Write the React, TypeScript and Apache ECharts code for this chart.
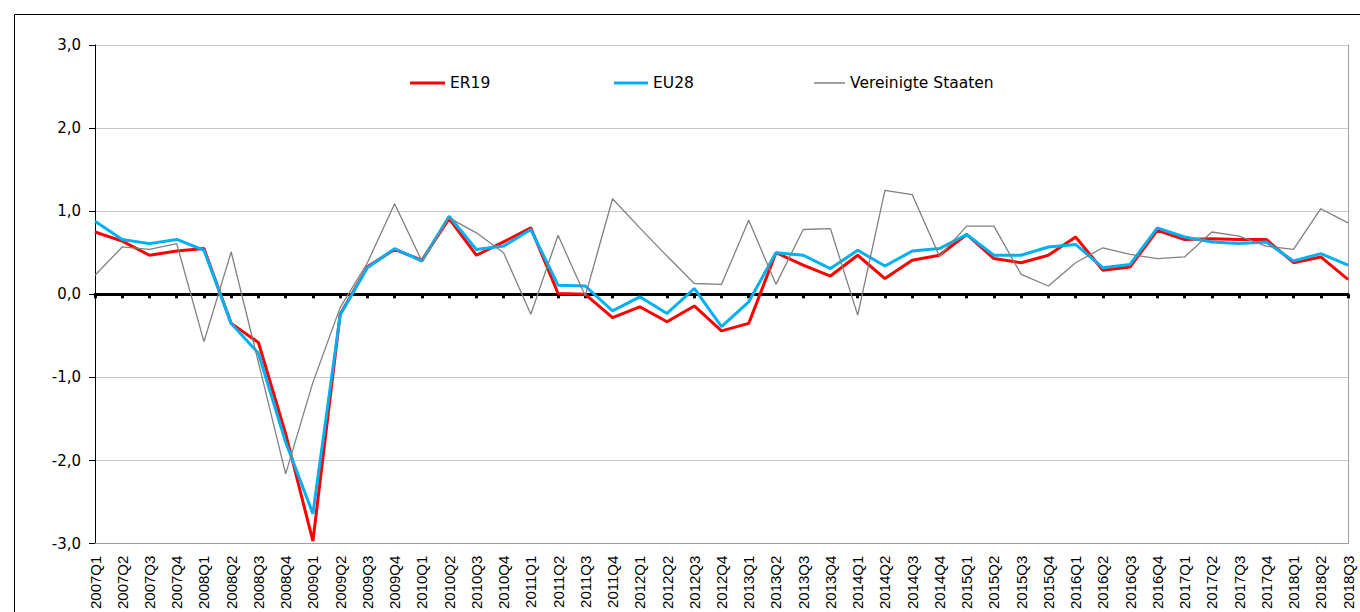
import React, { useEffect, useRef } from "react";
import * as echarts from "echarts";

const categories = [
  "2007Q1", "2007Q2", "2007Q3", "2007Q4",
  "2008Q1", "2008Q2", "2008Q3", "2008Q4",
  "2009Q1", "2009Q2", "2009Q3", "2009Q4",
  "2010Q1", "2010Q2", "2010Q3", "2010Q4",
  "2011Q1", "2011Q2", "2011Q3", "2011Q4",
  "2012Q1", "2012Q2", "2012Q3", "2012Q4",
  "2013Q1", "2013Q2", "2013Q3", "2013Q4",
  "2014Q1", "2014Q2", "2014Q3", "2014Q4",
  "2015Q1", "2015Q2", "2015Q3", "2015Q4",
  "2016Q1", "2016Q2", "2016Q3", "2016Q4",
  "2017Q1", "2017Q2", "2017Q3", "2017Q4",
  "2018Q1", "2018Q2", "2018Q3",
];

const er19 = [
  0.75, 0.64, 0.47, 0.52, 0.55, -0.35, -0.58, -1.68, -2.97, -0.24, 0.33, 0.54,
  0.41, 0.91, 0.47, 0.63, 0.8, 0.01, 0.0, -0.28, -0.15, -0.33, -0.14, -0.44,
  -0.35, 0.5, 0.35, 0.22, 0.47, 0.19, 0.41, 0.47, 0.72, 0.43, 0.38, 0.47,
  0.69, 0.29, 0.33, 0.77, 0.66, 0.67, 0.66, 0.66, 0.38, 0.45, 0.18,
];

const eu28 = [
  0.88, 0.66, 0.61, 0.66, 0.53, -0.35, -0.71, -1.78, -2.64, -0.25, 0.32, 0.55,
  0.4, 0.94, 0.54, 0.58, 0.78, 0.11, 0.1, -0.2, -0.03, -0.23, 0.07, -0.39,
  -0.09, 0.5, 0.47, 0.31, 0.53, 0.34, 0.52, 0.55, 0.72, 0.47, 0.47, 0.57,
  0.6, 0.32, 0.36, 0.8, 0.69, 0.63, 0.61, 0.63, 0.4, 0.49, 0.35,
];

const usa = [
  0.23, 0.57, 0.54, 0.61, -0.57, 0.51, -0.82, -2.16, -1.06, -0.16, 0.38, 1.09,
  0.4, 0.92, 0.74, 0.5, -0.24, 0.71, -0.02, 1.15, 0.8, 0.46, 0.13, 0.12,
  0.89, 0.12, 0.78, 0.79, -0.25, 1.25, 1.2, 0.46, 0.82, 0.82, 0.24, 0.1,
  0.38, 0.56, 0.48, 0.43, 0.45, 0.75, 0.7, 0.58, 0.54, 1.03, 0.86,
];

const seriesNames = ["ER19", "EU28", "Vereinigte Staaten"];
const seriesColors = ["#ff0000", "#00b0f0", "#808080"];
const yTicks = [-3, -2, -1, 0, 1, 2, 3];

const FONT = "Liberation Sans, Arial, sans-serif";
const WIDE_FONT = "DejaVu Sans, sans-serif";

export default function App() {
  const ref = useRef<HTMLDivElement>(null);

  useEffect(() => {
    if (!ref.current) return;
    const chart = echarts.init(ref.current, null, { renderer: "svg" });
    const legendLefts = [405, 609, 809];
    const legendWidths = [35, 34, 31];
    const legendHeights = [3, 3, 1.5];
    chart.setOption({
      animation: false,
      backgroundColor: "#ffffff",
      textStyle: { fontFamily: FONT },
      graphic: [
        {
          type: "rect",
          left: 12,
          top: 12,
          shape: { width: 1400, height: 700 },
          style: { fill: "none", stroke: "#000000", lineWidth: 1 },
          silent: true,
        },
      ],
      legend: seriesNames.map((n, i) => ({
        data: [{ name: n, icon: "rect" }],
        left: legendLefts[i],
        top: 70,
        itemWidth: legendWidths[i],
        itemHeight: legendHeights[i],
        itemGap: 0,
        textStyle: { fontFamily: WIDE_FONT, fontSize: 15.5, color: "#000000" },
        selectedMode: false,
      })),
      grid: { left: 95, top: 45, right: 12, bottom: 67, containLabel: false },
      xAxis: [
        {
          type: "category",
          data: categories,
          boundaryGap: false,
          position: "bottom",
          axisLine: { onZero: false, show: true, lineStyle: { color: "#a0a0a0", width: 1 } },
          axisTick: { show: false },
          axisLabel: {
            interval: 0,
            rotate: 90,
            fontFamily: FONT,
            fontSize: 15,
            color: "#000000",
            margin: 12,
          },
          splitLine: { show: false },
        },
        {
          type: "category",
          data: categories,
          boundaryGap: false,
          position: "bottom",
          axisLine: { onZero: true, show: true, lineStyle: { color: "#000000", width: 3 } },
          axisTick: {
            show: true,
            interval: 0,
            length: 4,
            inside: false,
            lineStyle: { color: "#000000", width: 3 },
          },
          axisLabel: { show: false },
          splitLine: { show: false },
        },
      ],
      yAxis: [
        {
          type: "value",
          min: yTicks[0],
          max: yTicks[yTicks.length - 1],
          interval: 1,
          axisLine: { show: true, lineStyle: { color: "#000000", width: 1 } },
          axisTick: { show: true, length: 6, lineStyle: { color: "#000000" } },
          axisLabel: {
            fontFamily: WIDE_FONT,
            fontSize: 15,
            color: "#000000",
            margin: 14,
            formatter: (v: number) => v.toFixed(1).replace(".", ","),
          },
          splitLine: { show: true, lineStyle: { color: "#c8c8c8", width: 1 } },
        },
        {
          type: "value",
          position: "right",
          min: yTicks[0],
          max: yTicks[yTicks.length - 1],
          interval: 1,
          axisLine: { show: true, lineStyle: { color: "#a0a0a0", width: 1 } },
          axisTick: { show: false },
          axisLabel: { show: false },
          splitLine: { show: false },
        },
      ],
      series: [
        {
          name: seriesNames[0],
          type: "line",
          data: er19,
          symbol: "none",
          color: seriesColors[0],
          lineStyle: { width: 3, color: seriesColors[0] },
          z: 3,
        },
        {
          name: seriesNames[1],
          type: "line",
          data: eu28,
          symbol: "none",
          color: seriesColors[1],
          lineStyle: { width: 3, color: seriesColors[1] },
          z: 4,
        },
        {
          name: seriesNames[2],
          type: "line",
          data: usa,
          symbol: "none",
          color: seriesColors[2],
          lineStyle: { width: 1.3, color: seriesColors[2] },
          z: 5,
        },
      ],
    });
    return () => chart.dispose();
  }, []);

  return (
    <div
      ref={ref}
      style={{ position: "fixed", left: 0, top: 0, width: 1360, height: 612 }}
    />
  );
}
